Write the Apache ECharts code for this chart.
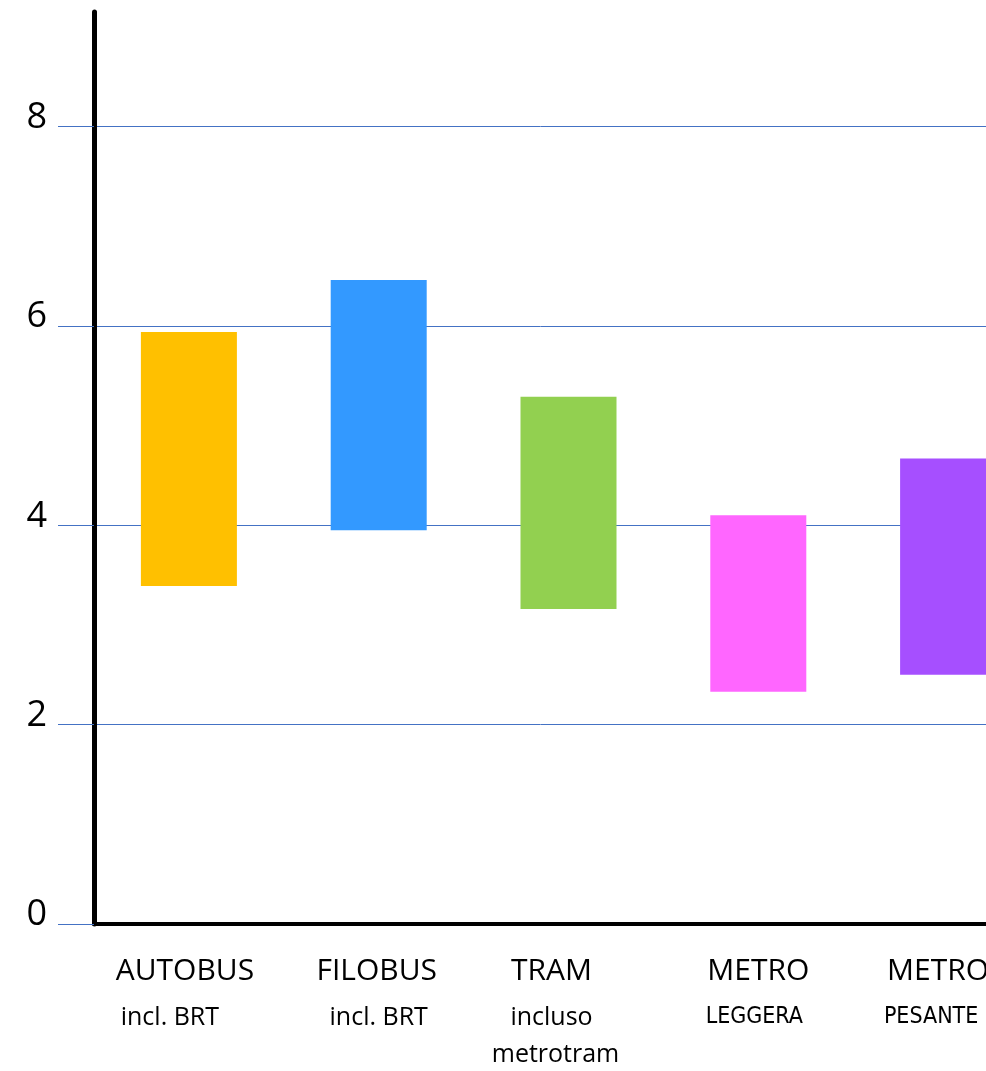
<!DOCTYPE html>
<html>
<head>
<meta charset="utf-8">
<script src="https://cdn.jsdelivr.net/npm/echarts@6/dist/echarts.min.js"></script>
<style>
html,body{margin:0;padding:0;background:#fff;}
#chart{width:986px;height:1071px;}
</style>
</head>
<body>
<div id="chart"></div>
<script>
// ---- data ----
var categories = ['AUTOBUS', 'FILOBUS', 'TRAM', 'METRO', 'METRO'];
var subLabels = ['incl. BRT', 'incl. BRT', 'incluso\nmetrotram', 'LEGGERA', 'PESANTE'];
var lowValues = [3.39, 3.95, 3.16, 2.33, 2.50];
var highValues = [5.94, 6.46, 5.29, 4.10, 4.67];
var barColors = ['#FFC000', '#3399FF', '#92D050', '#FF66FF', '#A64FFF'];
var yTicks = [0, 2, 4, 6, 8];

// ---- label styling (horizontal nudges, px, negative = left) ----
var mainShift = [-4, -2, -17, 0, -10];
var subShift = [[-19], [0], [-17, -13], [-4], [-17]];
var narrowSub = [false, false, false, true, true];

var rich = {};
function pad(s) { return [0, s < 0 ? -2 * s : 0, 0, s > 0 ? 2 * s : 0]; }
categories.forEach(function (c, i) {
  rich['m' + i] = { fontFamily: 'Open Sans', fontSize: 30, lineHeight: 56, color: '#000', padding: pad(mainShift[i]) };
  subShift[i].forEach(function (s, j) {
    rich['s' + i + '_' + j] = narrowSub[i]
      ? { fontFamily: "'DejaVu Sans Condensed', 'Open Sans'", fontSize: 23, lineHeight: 37, color: '#000', padding: pad(s) }
      : { fontFamily: 'Open Sans', fontSize: 25, lineHeight: 37, color: '#000', padding: pad(s) };
  });
});

var deltas = highValues.map(function (h, i) { return +(h - lowValues[i]).toFixed(2); });

var chart = echarts.init(document.getElementById('chart'), null, { renderer: 'canvas' });
chart.setOption({
  backgroundColor: '#fff',
  animation: false,
  grid: { left: 94, width: 949, top: 12, bottom: 147, containLabel: false, outerBoundsMode: 'none' },
  xAxis: {
    type: 'category',
    data: categories.map(function (c, i) { return i; }),
    boundaryGap: true,
    axisLine: { show: true, lineStyle: { color: '#000', width: 4 } },
    axisTick: { show: false },
    splitLine: { show: false },
    axisLabel: {
      interval: 0,
      margin: 19,
      align: 'center',
      verticalAlign: 'top',
      hideOverlap: false,
      formatter: function (v, idx) {
        var i = +v;
        var out = '{m' + i + '|' + categories[i] + '}';
        subLabels[i].split('\n').forEach(function (t, j) {
          out += '\n{s' + i + '_' + j + '|' + t + '}';
        });
        return out;
      },
      rich: rich
    }
  },
  yAxis: {
    type: 'value',
    min: 0,
    max: 9.15,
    interval: 2,
    axisLine: { show: true, lineStyle: { color: '#000', width: 5 } },
    axisTick: { show: true, length: 36, customValues: yTicks, lineStyle: { color: '#4472C4', width: 1 } },
    axisLabel: {
      customValues: yTicks,
      margin: 47,
      fontFamily: 'Open Sans',
      fontSize: 36,
      lineHeight: 18,
      color: '#000',
      verticalAlign: 'bottom'
    },
    splitLine: { show: true, lineStyle: { color: '#4472C4', width: 1 } }
  },
  series: [
    {
      type: 'bar',
      stack: 'range',
      data: lowValues,
      barWidth: 96,
      itemStyle: { color: 'rgba(0,0,0,0)' },
      silent: true
    },
    {
      type: 'bar',
      stack: 'range',
      data: deltas.map(function (d, i) { return { value: d, itemStyle: { color: barColors[i] } }; }),
      barWidth: 96
    }
  ]
});
</script>
</body>
</html>
